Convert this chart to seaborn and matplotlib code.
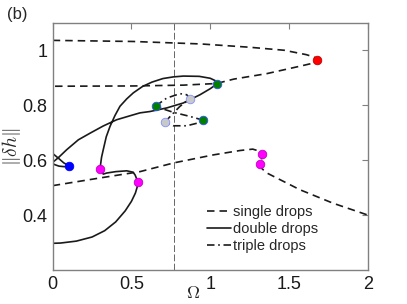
import matplotlib
matplotlib.use("Agg")
import pandas as pd
import matplotlib.pyplot as plt
import seaborn as sns
from matplotlib.lines import Line2D

# ---- data ----
# single drops, upper fold (closes at the red point)
single_a_x = [0.0, 0.51, 0.94, 1.25, 1.47, 1.61, 1.66, 1.68, 1.66, 1.57, 1.36, 1.15, 1.04, 0.83, 0.51, 0.0]
single_a_y = [1.036, 1.032, 1.023, 1.011, 1.000, 0.984, 0.975, 0.964, 0.954, 0.942, 0.915, 0.895, 0.879, 0.873, 0.870, 0.869]
# single drops, lower branch with the small S near Omega ~ 1.3
single_b_x = [0.0, 0.3, 0.554, 0.77, 1.02, 1.19, 1.27, 1.31, 1.331, 1.325, 1.314, 1.33, 1.36, 1.57, 1.78, 2.0]
single_b_y = [0.507, 0.535, 0.558, 0.590, 0.619, 0.635, 0.640, 0.633, 0.622, 0.600, 0.586, 0.568, 0.553, 0.492, 0.443, 0.400]

# double drops (one long branch)
double_x = [-0.03, 0.0, 0.036, 0.07, 0.104, 0.075, 0.04, 0.015, -0.006, 0.036, 0.089, 0.163,
            0.237, 0.32, 0.406, 0.50, 0.554, 0.618, 0.724, 0.829, 0.935, 1.00, 1.042,
            1.03, 1.00, 0.93, 0.83, 0.766, 0.70, 0.63, 0.57, 0.512, 0.47, 0.427, 0.395,
            0.364, 0.34, 0.321, 0.31, 0.30,
            0.321, 0.343, 0.40, 0.47, 0.51, 0.523, 0.54,
            0.538, 0.525, 0.50, 0.46, 0.40, 0.33, 0.25, 0.15, 0.05, 0.0]
double_y = [0.640, 0.624, 0.607, 0.590, 0.579, 0.576, 0.578, 0.583, 0.589, 0.609, 0.638, 0.674,
            0.698, 0.724, 0.747, 0.763, 0.772, 0.777, 0.790, 0.808, 0.838, 0.860, 0.877,
            0.890, 0.898, 0.905, 0.906, 0.903, 0.897, 0.884, 0.868, 0.845, 0.823, 0.796, 0.762,
            0.723, 0.685, 0.638, 0.610, 0.567,
            0.549, 0.553, 0.558, 0.561, 0.556, 0.546, 0.522,
            0.505, 0.480, 0.450, 0.415, 0.375, 0.343, 0.320, 0.305, 0.298, 0.297]

# triple drops (closed loop)
triple_x = [0.957, 0.872, 0.766, 0.702, 0.656, 0.724, 0.808, 0.851, 0.872, 0.808, 0.756,
            0.713, 0.766, 0.851, 0.935, 0.957]
triple_y = [0.745, 0.759, 0.774, 0.786, 0.798, 0.826, 0.842, 0.838, 0.823, 0.796, 0.765,
            0.739, 0.725, 0.725, 0.737, 0.745]

# bifurcation points
red_x, red_y = [1.68], [0.964]
green_x, green_y = [1.042, 0.655, 0.957], [0.877, 0.798, 0.745]
grey_x, grey_y = [0.872, 0.713], [0.824, 0.739]
magenta_x, magenta_y = [1.331, 1.314, 0.30, 0.54], [0.622, 0.586, 0.567, 0.522]
blue_x, blue_y = [0.104], [0.579]

omega_line = 0.768

# ---- long-form table ----
parts = [
    ("single", 0, single_a_x, single_a_y),
    ("single", 1, single_b_x, single_b_y),
    ("double", 2, double_x, double_y),
    ("triple", 3, triple_x, triple_y),
]
rows = []
for kind, seg, xs, ys in parts:
    for xv, yv in zip(xs, ys):
        rows.append({"omega": xv, "norm": yv, "seg": seg, "kind": kind})
df = pd.DataFrame(rows)

sns.set_theme(style="white")
plt.rcParams["font.family"] = ["Liberation Sans", "DejaVu Sans"]
plt.rcParams["mathtext.fontset"] = "cm"

fig = plt.figure(figsize=(4.07, 3.04), dpi=100)
ax = fig.add_axes([0.1295, 0.112, 0.774, 0.813])

styles = {
    "single": (0, (4.5, 3.0)),
    "double": "-",
    "triple": (0, (4.5, 2.2, 1.0, 2.2)),
}
for kind, ls in styles.items():
    sns.lineplot(data=df[df["kind"] == kind], x="omega", y="norm", units="seg",
                 estimator=None, sort=False, color="k", lw=1.2, linestyle=ls,
                 ax=ax, legend=False)

ax.axvline(omega_line, color="#666666", lw=0.7, linestyle=(0, (7, 2.5)), zorder=1)

points = [
    (red_x, red_y, "#ff0000", "#c00000"),
    (green_x, green_y, "#007f00", "#3050ff"),
    (grey_x, grey_y, "#c8c8c8", "#8090ff"),
    (magenta_x, magenta_y, "#ff00ff", "#c000c0"),
    (blue_x, blue_y, "#0000ff", "#0000ff"),
]
for xs, ys, face, edge in points:
    sns.scatterplot(x=xs, y=ys, color=face, edgecolor=edge, linewidth=0.6,
                    s=38, zorder=5, ax=ax, legend=False)

ax.set_xlim(0, 2)
ax.set_ylim(0.2, 1.1)
ax.set_xticks([0, 0.5, 1, 1.5, 2])
ax.set_xticklabels(["0", "0.5", "1", "1.5", "2"])
ax.set_yticks([0.4, 0.6, 0.8, 1.0])
ax.set_yticklabels(["0.4", "0.6", "0.8", "1"])
ax.tick_params(direction="in", top=True, right=True, length=4, width=0.8,
               color="#808080", labelsize=13, pad=4, labelcolor="k")
for sp in ax.spines.values():
    sp.set_color("#808080")
    sp.set_linewidth(1.0)

ax.set_xlabel(r"$\Omega$", fontsize=13)
ax.xaxis.set_label_coords(0.445, -0.06)
ax.set_ylabel(r"$\|\delta h\|$", fontsize=14)
ax.yaxis.set_label_coords(-0.095, 0.5)

handles = [Line2D([], [], color="k", lw=1.2, linestyle=styles[k]) for k in styles]
ax.legend(handles, ["single drops", "double drops", "triple drops"],
          loc="lower left", bbox_to_anchor=(0.49, 0.07), frameon=False,
          fontsize=10.5, borderpad=0, borderaxespad=0, handlelength=1.65,
          handletextpad=0.15, labelspacing=0.2)

fig.text(7 / 407, 1 - 15 / 304, "(b)", fontsize=12, va="center", ha="left")

fig.savefig("out.png", dpi=100)
